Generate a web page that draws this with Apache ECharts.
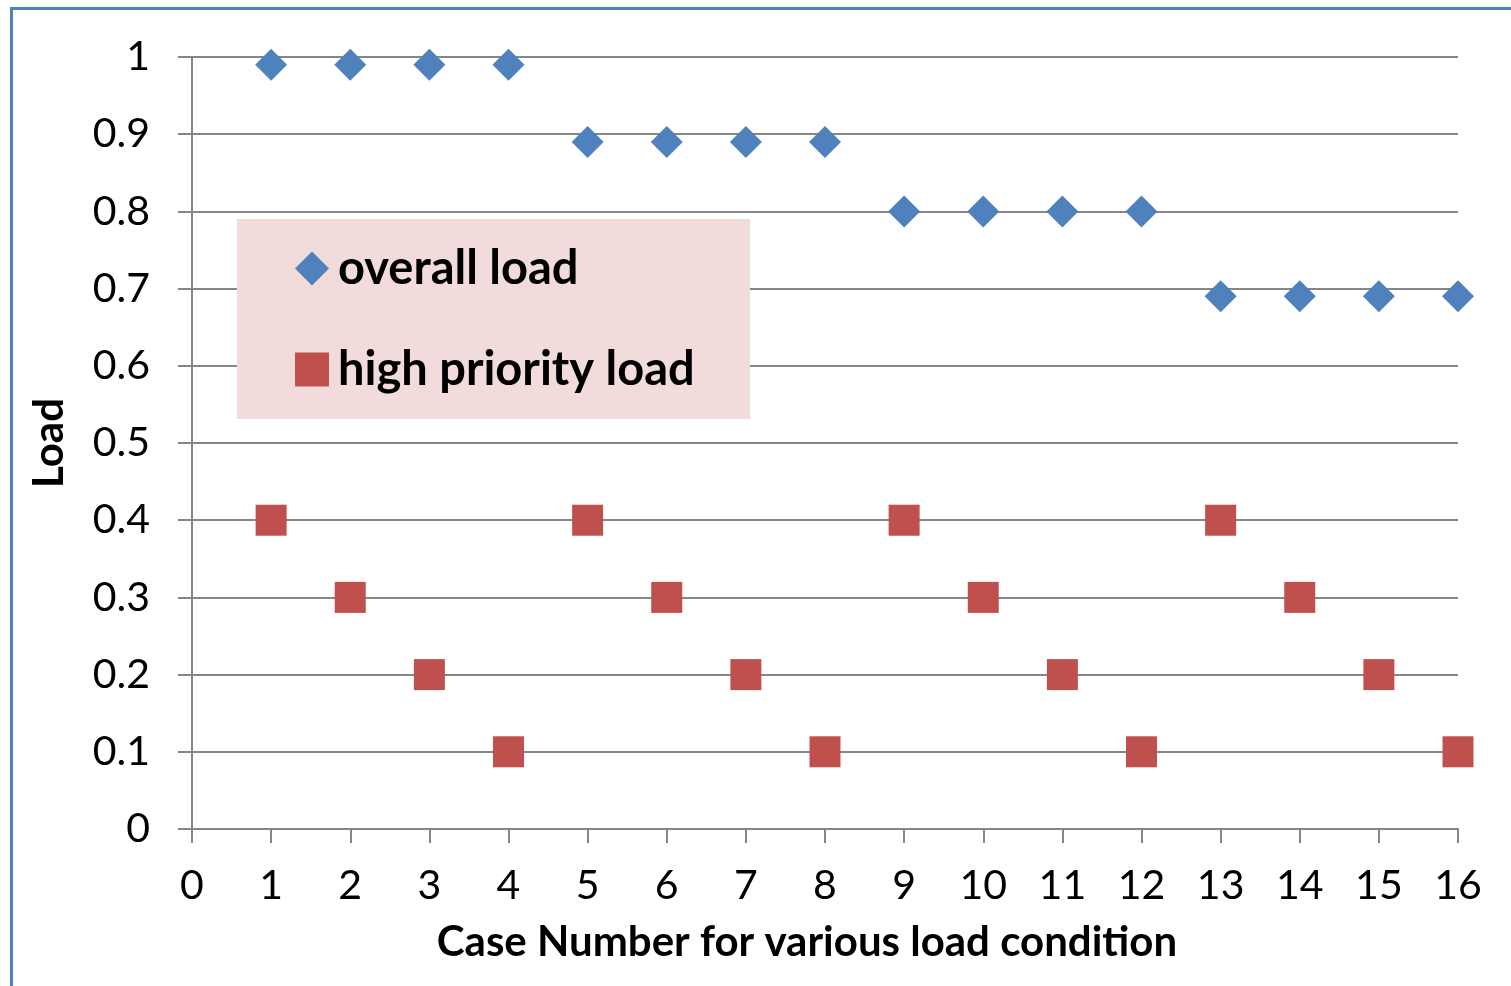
<!DOCTYPE html>
<html><head><meta charset="utf-8">
<script src="https://cdn.jsdelivr.net/npm/echarts@6/dist/echarts.min.js"></script>
<style>html,body{margin:0;padding:0;background:#fff}#c{width:1511px;height:986px}</style>
</head><body><div id="c"></div>
<script>
var cases = [1,2,3,4,5,6,7,8,9,10,11,12,13,14,15,16];
var overallLoad = [0.99,0.99,0.99,0.99,0.89,0.89,0.89,0.89,0.80,0.80,0.80,0.80,0.69,0.69,0.69,0.69];
var highPriorityLoad = [0.4,0.3,0.2,0.1,0.4,0.3,0.2,0.1,0.4,0.3,0.2,0.1,0.4,0.3,0.2,0.1];
var yTickLabels = ['0','0.1','0.2','0.3','0.4','0.5','0.6','0.7','0.8','0.9','1'];
var seriesNames = ['overall load','high priority load'];
var xName = 'Case Number for various load condition';
var yName = 'Load';

var FONT = 'Lato';
var chart = echarts.init(document.getElementById('c'), null, {renderer:'canvas'});
function pairs(xs, ys){ return xs.map(function(x,i){ return [x, ys[i]]; }); }
chart.setOption({
  animation:false,
  backgroundColor:'#fff',
  textStyle:{fontFamily:FONT},
  grid:{left:192, right:53, top:57, bottom:157, containLabel:false},
  graphic:[
    {type:'rect', left:9, top:6, shape:{width:1600, height:1100}, style:{fill:'none', stroke:'#4F81BD', lineWidth:3}, z:10},
    {type:'rect', left:237, top:219, shape:{width:513, height:200}, style:{fill:'#F2DCDB'}, z:3}
  ],
  legend:{
    orient:'vertical', left:290, top:240, z:5,
    itemWidth:34, itemHeight:34, itemGap:54,
    textStyle:{fontFamily:FONT, fontSize:47, fontWeight:'bold', color:'#000', padding:[0,0,0,4]},
    data:[{name:seriesNames[0], icon:'diamond'},{name:seriesNames[1], icon:'rect'}]
  },
  xAxis:{
    type:'value', min:0, max:16, interval:1,
    name:xName, nameLocation:'middle', nameGap:92,
    nameTextStyle:{fontFamily:FONT, fontSize:42, fontWeight:'bold', color:'#000', padding:[0,36,0,0]},
    axisLine:{show:true, lineStyle:{color:'#868686', width:2}},
    axisTick:{show:true, length:14, lineStyle:{color:'#868686', width:2}},
    axisLabel:{fontFamily:FONT, fontSize:41, color:'#000', margin:36},
    splitLine:{show:false}
  },
  yAxis:{
    type:'value', min:0, max:1, interval:0.1,
    name:yName, nameLocation:'middle', nameGap:122, nameRotate:90,
    nameTextStyle:{fontFamily:FONT, fontSize:42, fontWeight:'bold', color:'#000'},
    axisLine:{show:true, lineStyle:{color:'#868686', width:2}},
    axisTick:{show:true, length:14, lineStyle:{color:'#868686', width:2}},
    axisLabel:{fontFamily:FONT, fontSize:41, color:'#000', margin:42,
      formatter:function(v){ return yTickLabels[Math.round(v*10)]; }},
    splitLine:{show:true, lineStyle:{color:'#868686', width:2}}
  },
  series:[
    {name:seriesNames[0], type:'scatter', symbol:'diamond', symbolSize:32, z:6,
     itemStyle:{color:'#4F81BD', opacity:1}, data:pairs(cases, overallLoad)},
    {name:seriesNames[1], type:'scatter', symbol:'rect', symbolSize:31, z:6,
     itemStyle:{color:'#C0504D', opacity:1}, data:pairs(cases, highPriorityLoad)}
  ]
});
</script></body></html>
